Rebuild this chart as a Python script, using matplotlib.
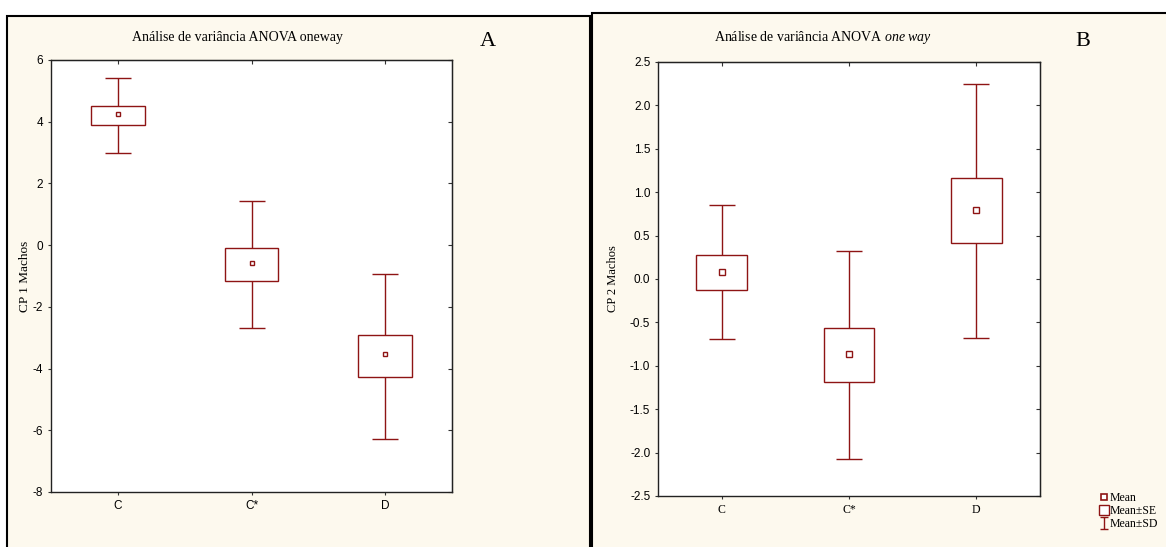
import matplotlib
matplotlib.use('Agg')
import matplotlib.pyplot as plt
from matplotlib.patches import Rectangle
from matplotlib.lines import Line2D
from matplotlib.path import Path

# data
groups = ['C', 'C*', 'D']

a_mean = [4.25, -0.57, -3.53]
a_se_low = [3.88, -1.16, -4.28]
a_se_high = [4.51, -0.09, -2.90]
a_sd_low = [2.99, -2.70, -6.27]
a_sd_high = [5.41, 1.43, -0.92]
a_yticks = [-8, -6, -4, -2, 0, 2, 4, 6]

b_mean = [0.083, -0.859, 0.794]
b_se_low = [-0.121, -1.186, 0.409]
b_se_high = [0.275, -0.570, 1.159]
b_sd_low = [-0.690, -2.077, -0.675]
b_sd_high = [0.847, 0.325, 2.246]
b_yticks = [-2.5, -2.0, -1.5, -1.0, -0.5, 0.0, 0.5, 1.0, 1.5, 2.0, 2.5]

red = '#8e1414'
cream = '#fdf9ee'
serif = ['Liberation Serif', 'DejaVu Serif']
sans = ['Liberation Sans Narrow', 'Liberation Sans', 'DejaVu Sans']

plt.rcParams['mathtext.fontset'] = 'custom'
plt.rcParams['mathtext.rm'] = 'Liberation Serif'
plt.rcParams['mathtext.it'] = 'Liberation Serif:italic'

W, H = 1166, 547
fig = plt.figure(figsize=(W / 100, H / 100), dpi=100)
fig.patch.set_facecolor('white')

# panel frames
fig.add_artist(Rectangle((7 / W, -0.01), (590 - 7) / W, 1 - 16 / H + 0.01,
                         transform=fig.transFigure, facecolor=cream,
                         edgecolor='black', lw=1.5, zorder=0))
fig.add_artist(Rectangle((592 / W, -0.01), (1170 - 592) / W, 1 - 13 / H + 0.01,
                         transform=fig.transFigure, facecolor=cream,
                         edgecolor='black', lw=1.5, zorder=0))


def draw_panel(ax, mean, se_low, se_high, sd_low, sd_high, yticks, ylim,
               yticklabels, tick_font, xtick_font, tsize, ms):
    x = list(range(len(groups)))
    lo = [m - s for m, s in zip(mean, sd_low)]
    hi = [s - m for m, s in zip(mean, sd_high)]
    ax.errorbar(x, mean, yerr=[lo, hi], fmt='none', ecolor=red, elinewidth=1,
                capsize=9.5, capthick=1, zorder=2)
    heights = [h - l for l, h in zip(se_low, se_high)]
    ax.bar(x, heights, bottom=se_low, width=0.4, color='white', edgecolor=red,
           linewidth=1, zorder=3)
    ax.plot(x, mean, ls='none', marker='s', ms=ms, mfc='white', mec=red,
            mew=1, zorder=4)
    ax.set_xlim(-0.5, 2.5)
    ax.set_ylim(*ylim)
    ax.set_xticks(x)
    ax.set_xticklabels(groups, family=xtick_font, fontsize=tsize)
    ax.set_yticks(yticks)
    ax.set_yticklabels(yticklabels, family=tick_font, fontsize=tsize)
    ax.tick_params(direction='out', length=2.5, width=0.8, pad=3, color='#333333')
    for s in ax.spines.values():
        s.set_linewidth(1.0)
        s.set_color('#222222')
    top = ax.secondary_xaxis('top')
    top.set_xticks(x)
    top.set_xticklabels([])
    top.tick_params(direction='in', length=3, width=0.8, color='#333333')
    right = ax.secondary_yaxis('right')
    right.set_yticks(yticks)
    right.set_yticklabels([])
    right.tick_params(direction='in', length=3, width=0.8, color='#333333')


# panel A
axA = fig.add_axes([51 / W, 1 - 492 / H, (452 - 51) / W, (492 - 60) / H])
draw_panel(axA, a_mean, a_se_low, a_se_high, a_sd_low, a_sd_high, a_yticks,
           (-8, 6), [str(t) for t in a_yticks], sans, sans, 8.5, 3.5)
axA.set_ylabel('CP 1 Machos', family=serif, fontsize=9.5)
axA.yaxis.set_label_coords((31 - 51) / 401, 0.5)
fig.text(237 / W, 1 - 37 / H, 'Análise de variância ANOVA oneway', family=serif,
         fontsize=10, ha='center', va='center')
fig.text(488 / W, 1 - 42 / H, 'A', family=serif, fontsize=16, ha='center',
         va='center')

# panel B
axB = fig.add_axes([658 / W, 1 - 496 / H, (1040 - 658) / W, (496 - 62) / H])
draw_panel(axB, b_mean, b_se_low, b_se_high, b_sd_low, b_sd_high, b_yticks,
           (-2.5, 2.5), ['%.1f' % t for t in b_yticks], sans, serif, 8.5, 4.5)
axB.set_ylabel('CP 2 Machos', family=serif, fontsize=9)
axB.yaxis.set_label_coords((619 - 658) / 382, 0.5)
fig.text(823 / W, 1 - 37 / H, r'Análise de variância ANOVA $\it{one\ way}$',
         family=serif, fontsize=10, ha='center', va='center')
fig.text(1083 / W, 1 - 42 / H, 'B', family=serif, fontsize=16, ha='center',
         va='center')

# legend
sd_path = Path([(-0.3, 0.5), (0.3, 0.5), (0, 0.5), (0, -0.5), (-0.3, -0.5), (0.3, -0.5)],
               [Path.MOVETO, Path.LINETO, Path.MOVETO, Path.LINETO, Path.MOVETO, Path.LINETO])
handles = [
    Line2D([], [], ls='none', marker='s', ms=4, mfc='white', mec=red, mew=1.2),
    Line2D([], [], ls='none', marker='s', ms=6.5, mfc='white', mec=red, mew=1),
    Line2D([], [], ls='none', marker=sd_path, ms=9, mfc='none', mec=red, mew=1),
]
fig.legend(handles, ['Mean', 'Mean±SE', 'Mean±SD'], loc='upper left',
           bbox_to_anchor=(1100 / W, 1 - 492 / H), frameon=False,
           prop={'family': serif, 'size': 8.5}, handlelength=0.7,
           handleheight=0.6, handletextpad=0.15, labelspacing=0.1,
           borderpad=0, borderaxespad=0)

fig.savefig('out.png', dpi=100)
